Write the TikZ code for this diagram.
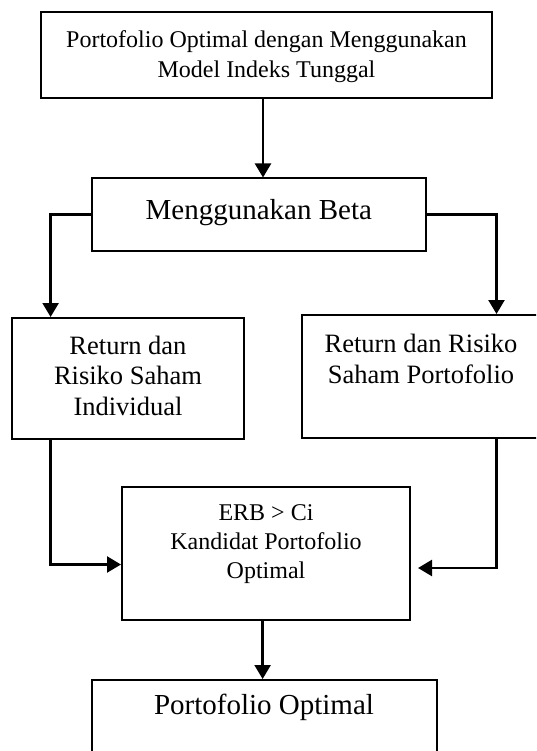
\documentclass[tikz,border=0pt]{standalone}
\usepackage{fontspec}
\setmainfont{Liberation Serif}
\usetikzlibrary{arrows.meta}
\begin{document}
\begin{tikzpicture}[x=1pt,y=-1pt,
  box/.style={draw,line width=2pt,inner sep=0pt},
  txt/.style={anchor=north,inner sep=0pt,align=center},
  arr/.style={line width=2.4pt,-{Triangle[length=14pt,width=16pt]}}]
\useasboundingbox (0,0) rectangle (536,751);
\clip (0,0) rectangle (536,751);
% boxes
\node[box,minimum width=451pt,minimum height=86pt] (top) at (266.5,55.5) {};
\node[box,minimum width=334.4pt,minimum height=72pt] (beta) at (258.8,214.5) {};
\node[box,minimum width=232.4pt,minimum height=121pt] (lbox) at (128.2,378.5) {};
\node[box,minimum width=258pt,minimum height=123pt] (rbox) at (431,376.5) {};
\node[box,minimum width=288pt,minimum height=133pt] (mid) at (266,553.5) {};
\node[box,minimum width=345pt,minimum height=120pt] (bot) at (264.1,740) {};
% texts
\node[txt,font=\fontsize{24}{30.4}\selectfont] (ttop) at (266.5,30.1) {Portofolio Optimal dengan Menggunakan\\Model Indeks Tunggal};
\node[txt,font=\fontsize{29}{34}\selectfont] (tbeta) at (258.8,199) {Menggunakan Beta};
\node[txt,font=\fontsize{26.5}{30.75}\selectfont] (tl) at (128,335.5) {Return dan\\Risiko Saham\\Individual};
\node[txt,font=\fontsize{26.5}{31}\selectfont] (tr) at (421,334.4) {Return dan Risiko\\Saham Portofolio};
\node[txt,font=\fontsize{24}{29.4}\selectfont] (tm) at (266,504) {ERB > Ci\\Kandidat Portofolio\\Optimal};
\node[txt,font=\fontsize{29}{34}\selectfont] (tb) at (264,694) {Portofolio Optimal};
% connector columns
\coordinate (a1) at (263,0);
\coordinate (a2) at (262.6,0);
\coordinate (cl) at (50.6,0);
\coordinate (cr) at (496.5,0);
\coordinate (jl) at (50.6,564.5);
\coordinate (jr) at (496.5,568);
% connectors
\draw[arr] (top.south -| a1) -- (beta.north -| a1);
\draw[arr] (beta.west) -- (beta.west -| cl) -- (lbox.north -| cl);
\draw[arr] (beta.east) -- (beta.east -| cr) -- (rbox.north -| cr);
\draw[arr] (lbox.south -| jl) -- (jl) -- (mid.west |- jl);
\draw[arr] (rbox.south -| jr) -- (jr) -- ([xshift=7pt]mid.east |- jr);
\draw[arr] (mid.south -| a2) -- (bot.north -| a2);
\end{tikzpicture}
\end{document}
